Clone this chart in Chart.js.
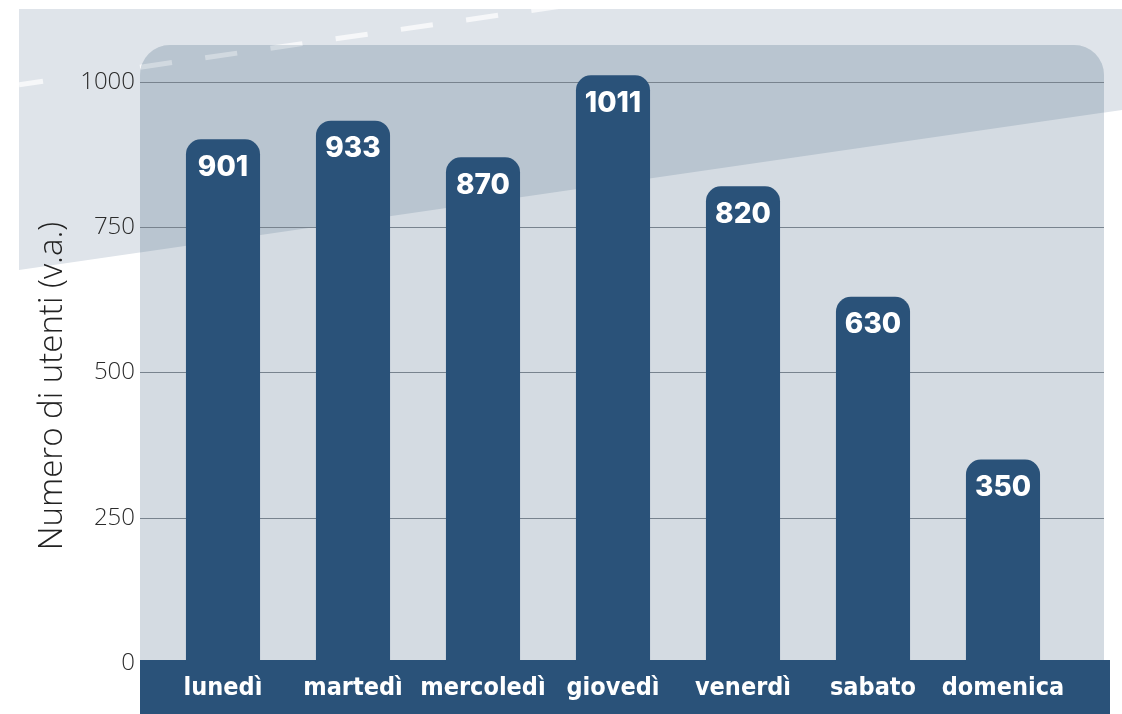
<!DOCTYPE html>
<html>
<head>
<meta charset="utf-8">
<script src="https://cdn.jsdelivr.net/npm/chart.js@4.4.1/dist/chart.umd.min.js"></script>
<style>
	html, body { margin: 0; padding: 0; background: #ffffff; }
	#wrap { width: 1122px; height: 714px; }
</style>
</head>
<body>
<div id="wrap"><canvas id="myChart" width="1122" height="714"></canvas></div>
<script>
//chart data
const giorni = ['lunedì', 'martedì', 'mercoledì', 'giovedì', 'venerdì', 'sabato', 'domenica'];
const utenti = [901, 933, 870, 1011, 820, 630, 350];
const yTicks = [0, 250, 500, 750, 1000];
const yTitle = 'Numero di utenti (v.a.)';

const BLU = '#2a5279';

//y of the dashed road line at a given x
var roadLineY = function(x) { return 83 - 0.145 * (x - 31); };

//draws the road band, the rounded panel, grid lines and the bottom band
var sfondo = {
	id: 'sfondo',
	beforeDraw: function(chart) {
		var c = chart.ctx;
		var W = chart.width, H = chart.height;
		var area = chart.chartArea;
		var y = chart.scales.y;
		c.save();
		c.fillStyle = '#ffffff';
		c.fillRect(0, 0, W, H);

		//light road band across the top
		var road = function() {
			c.beginPath();
			c.moveTo(19, 9);
			c.lineTo(W, 9);
			c.lineTo(W, 110);
			c.lineTo(19, 270);
			c.closePath();
		};
		road();
		c.fillStyle = '#dfe4ea';
		c.fill();

		//dashed white centre line of the road
		var dashes = function(col) {
			c.save();
			c.beginPath();
			c.rect(19, 9, W, H);
			c.clip();
			c.strokeStyle = col;
			c.lineWidth = 5;
			c.beginPath();
			c.moveTo(19, roadLineY(19));
			c.lineTo(43, roadLineY(43));
			c.stroke();
			c.setLineDash([32.3, 33.6]);
			c.beginPath();
			c.moveTo(140, roadLineY(140));
			c.lineTo(620, roadLineY(620));
			c.stroke();
			c.restore();
		};
		dashes('#f6f7f9');

		//rounded panel behind the plot
		var pl = 140, pt = 45, pr = 1104, pb = area.bottom;
		var panel = function() {
			c.beginPath();
			c.roundRect(pl, pt, pr - pl, pb - pt + 20, [30, 30, 0, 0]);
		};
		panel();
		c.fillStyle = '#d4dbe2';
		c.fill();

		//where the road crosses the panel it gets darker
		c.save();
		panel();
		c.clip();
		road();
		c.fillStyle = '#b9c5d0';
		c.fill();
		dashes('rgba(255,255,255,0.35)');
		c.restore();

		//horizontal grid lines from the y scale
		c.strokeStyle = '#78838e';
		c.lineWidth = 1.2;
		yTicks.forEach(function(v) {
			if (v === 0) return;
			var py = Math.round(y.getPixelForValue(v)) + 0.5;
			c.beginPath();
			c.moveTo(pl, py);
			c.lineTo(pr, py);
			c.stroke();
		});

		//dark band holding the day names
		c.fillStyle = BLU;
		c.fillRect(pl, area.bottom - 3, 1110 - pl, H - area.bottom + 3);

		//vertical axis title
		c.translate(53, 386);
		c.rotate(-Math.PI / 2);
		c.fillStyle = '#222222';
		c.font = '300 33px "Open Sans", sans-serif';
		c.textAlign = 'center';
		c.textBaseline = 'middle';
		c.fillText(yTitle, 0, 0);
		c.restore();
	},
	afterDatasetsDraw: function(chart) {
		//white value written inside the top of every bar
		var c = chart.ctx;
		var meta = chart.getDatasetMeta(0);
		c.save();
		c.fillStyle = '#ffffff';
		c.font = '800 28px Inter, sans-serif';
		c.textAlign = 'center';
		c.textBaseline = 'middle';
		meta.data.forEach(function(bar, i) {
			c.fillText(String(utenti[i]), bar.x, bar.y + 28);
		});
		c.restore();
	}
};

var ctx = document.getElementById('myChart');
var grafico = new Chart(ctx, {
	type: 'bar',
	data: {
		labels: giorni,
		datasets: [{
			data: utenti,
			backgroundColor: BLU,
			borderRadius: { topLeft: 15, topRight: 15, bottomLeft: 0, bottomRight: 0 },
			borderSkipped: false,
			barPercentage: 0.57,
			categoryPercentage: 1
		}]
	},
	options: {
		responsive: false,
		animation: false,
		devicePixelRatio: 1,
		layout: { padding: { top: 3, right: 54, left: 0, bottom: 0 } },
		plugins: {
			legend: { display: false },
			tooltip: { enabled: false },
			title: { display: false }
		},
		scales: {
			x: {
				grid: { display: false },
				border: { display: false },
				ticks: {
					color: '#ffffff',
					padding: 2,
					maxRotation: 0,
					minRotation: 0,
					autoSkip: false,
					font: { family: '"DejaVu Sans Condensed", sans-serif', weight: 'bold', size: 25 }
				},
				afterFit: function(scale) { scale.height = 51; }
			},
			y: {
				min: 0,
				max: 1090,
				bounds: 'data',
				grid: { display: false },
				border: { display: false },
				ticks: {
					color: '#2b2b2b',
					padding: 15,
					font: { family: '"Open Sans", sans-serif', weight: '300', size: 24 },
					callback: function(v) { return String(v); }
				},
				afterBuildTicks: function(scale) {
					scale.ticks = yTicks.map(function(v) { return { value: v }; });
				},
				afterFit: function(scale) { scale.width = 158; }
			}
		}
	},
	plugins: [sfondo]
});
</script>
</body>
</html>
